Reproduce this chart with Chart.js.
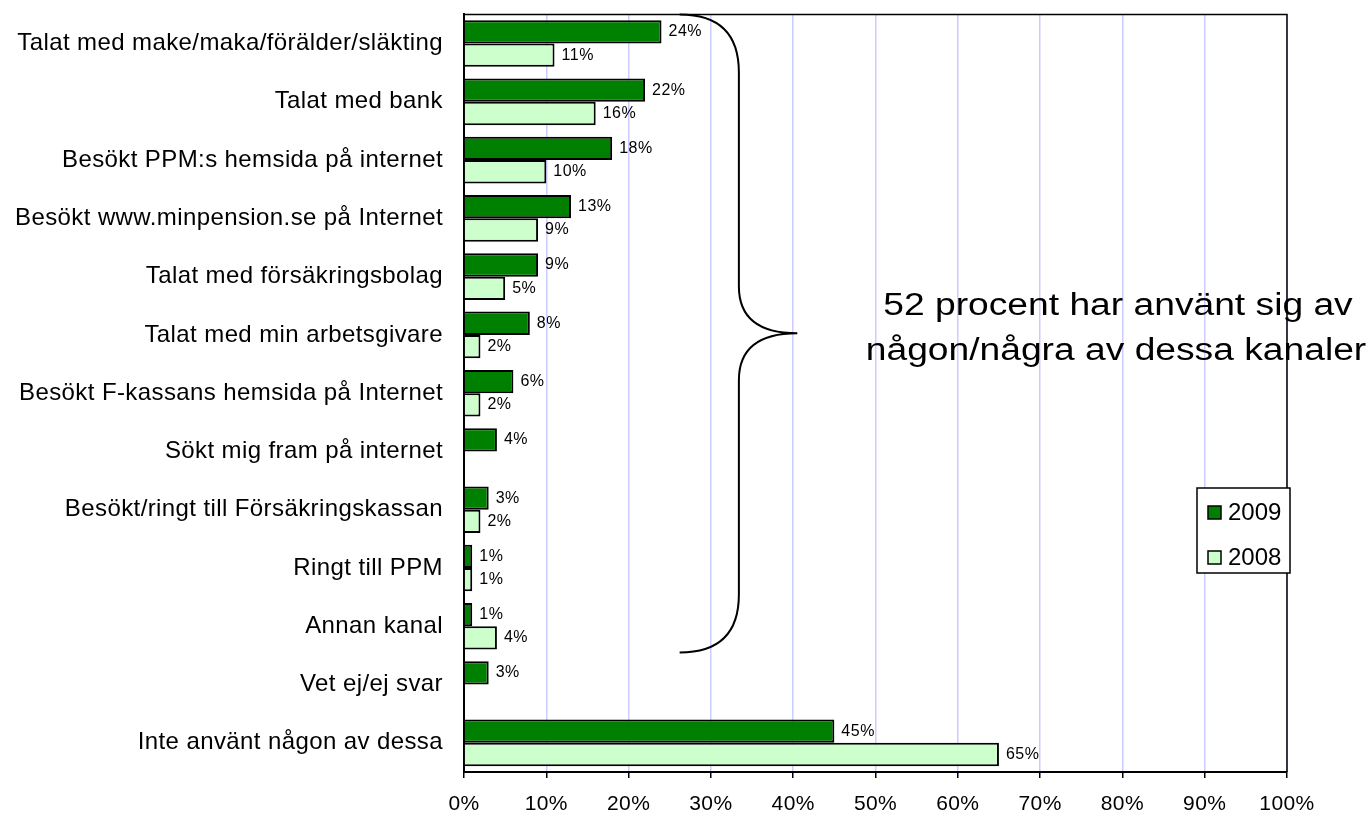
<!DOCTYPE html>
<html>
<head>
<meta charset="utf-8">
<script src="https://cdn.jsdelivr.net/npm/chart.js@4/dist/chart.umd.min.js"></script>
<style>
  html, body { margin: 0; padding: 0; background: #fff; }
  #wrap { width: 1372px; height: 813px; }
</style>
</head>
<body>
<div id="wrap"><canvas id="kanalChart" width="1372" height="813"></canvas></div>
<script>
// Kanaler för pensionsinformation, andel i procent
const categories = [
    'Talat med make/maka/förälder/släkting',
    'Talat med bank',
    'Besökt PPM:s hemsida på internet',
    'Besökt www.minpension.se på Internet',
    'Talat med försäkringsbolag',
    'Talat med min arbetsgivare',
    'Besökt F-kassans hemsida på Internet',
    'Sökt mig fram på internet',
    'Besökt/ringt till Försäkringskassan',
    'Ringt till PPM',
    'Annan kanal',
    'Vet ej/ej svar',
    'Inte använt någon av dessa'
];
const values2009 = [24, 22, 18, 13, 9, 8, 6, 4, 3, 1, 1, 3, 45];
const values2008 = [11, 16, 10, 9, 5, 2, 2, null, 2, 1, 4, null, 65];
const xTicks = [0, 10, 20, 30, 40, 50, 60, 70, 80, 90, 100];
const noteLines = ['52 procent har använt sig av', 'någon/några av dessa kanaler'];

const FONT = '"Liberation Sans", Arial, Helvetica, sans-serif';

// lite bredare teckenavstånd, som i originalet
const spacing = {
    id: 'spacing',
    beforeDraw(chart) { chart.ctx.letterSpacing = '0.4px'; },
    afterDraw(chart) { chart.ctx.letterSpacing = '0px'; }
};

// Etiketter till höger om staplarna
const valueLabels = {
    id: 'valueLabels',
    afterDatasetsDraw(chart) {
        const ctx = chart.ctx;
        ctx.save();
        ctx.font = '16px ' + FONT;
        ctx.letterSpacing = '0.5px';
        ctx.fillStyle = '#000';
        ctx.textBaseline = 'middle';
        ctx.textAlign = 'left';
        chart.data.datasets.forEach((ds, i) => {
            chart.getDatasetMeta(i).data.forEach((bar, j) => {
                if (ds.data[j] == null) return;
                ctx.fillText(ds.data[j] + '%', bar.x + 7, bar.y);
            });
        });
        ctx.restore();
    }
};

// Ram, klammer, kommentar och förklaring
const extras = {
    id: 'extras',
    afterDraw(chart) {
        const ctx = chart.ctx;
        const a = chart.chartArea;
        const x = chart.scales.x;
        const y = chart.scales.y;
        ctx.save();

        // ram runt diagramytan
        ctx.strokeStyle = '#000';
        ctx.lineWidth = 1.5;
        ctx.beginPath();
        ctx.moveTo(a.left, a.top);
        ctx.lineTo(a.right, a.top);
        ctx.lineTo(a.right, a.bottom);
        ctx.stroke();

        // klammer
        const band = y.getPixelForValue(1) - y.getPixelForValue(0);
        const x0 = x.getPixelForValue(26.2);
        const xm = x.getPixelForValue(33.4);
        const xt = x.getPixelForValue(40.5);
        const top = a.top;
        const bot = y.getPixelForValue(10) + band * 0.45;
        const mid = y.getPixelForValue(5) - band * 0.03;
        const r = 58;
        ctx.lineWidth = 2;
        ctx.beginPath();
        ctx.moveTo(x0, top);
        ctx.quadraticCurveTo(xm, top, xm, top + r);
        ctx.lineTo(xm, mid - 47);
        ctx.quadraticCurveTo(xm, mid, xt, mid);
        ctx.quadraticCurveTo(xm, mid, xm, mid + 47);
        ctx.lineTo(xm, bot - r);
        ctx.quadraticCurveTo(xm, bot, x0, bot);
        ctx.stroke();

        // kommentar (något utdragen i bredd, som i originalet)
        ctx.font = '31px ' + FONT;
        ctx.letterSpacing = '0px';
        ctx.fillStyle = '#000';
        ctx.textAlign = 'center';
        ctx.textBaseline = 'middle';
        [[noteLines[0], 1118, 306], [noteLines[1], 1116, 351]].forEach(([t, tx, ty]) => {
            ctx.save();
            ctx.translate(tx, ty);
            ctx.scale(1.2, 1);
            ctx.fillText(t, 0, 0);
            ctx.restore();
        });

        // förklaring
        const lx = 1197, ly = 488, lw = 93, lh = 85;
        ctx.fillStyle = '#fff';
        ctx.fillRect(lx, ly, lw, lh);
        ctx.lineWidth = 1.5;
        ctx.strokeStyle = '#000';
        ctx.strokeRect(lx, ly, lw, lh);
        ctx.font = '24px ' + FONT;
        ctx.textAlign = 'left';
        chart.data.datasets.forEach((ds, i) => {
            const cy = ly + 24 + i * 45;
            ctx.fillStyle = ds.backgroundColor;
            ctx.fillRect(lx + 11, cy - 6, 13, 13);
            ctx.lineWidth = 1.5;
            ctx.strokeRect(lx + 11, cy - 6, 13, 13);
            ctx.fillStyle = '#000';
            ctx.fillText(ds.label, lx + 31, cy + 1);
        });
        ctx.restore();
    }
};

new Chart(document.getElementById('kanalChart'), {
    type: 'bar',
    data: {
        labels: categories,
        datasets: [
            {
                label: '2009',
                data: values2009,
                backgroundColor: '#008000',
                borderColor: '#000',
                borderWidth: 2,
                categoryPercentage: 0.8,
                barPercentage: 1.0
            },
            {
                label: '2008',
                data: values2008,
                backgroundColor: '#ccffcc',
                borderColor: '#000',
                borderWidth: 2,
                categoryPercentage: 0.8,
                barPercentage: 1.0
            }
        ]
    },
    options: {
        indexAxis: 'y',
        responsive: false,
        animation: false,
        layout: { padding: { top: 0, right: 85, bottom: 0, left: 0 } },
        plugins: {
            legend: { display: false },
            tooltip: { enabled: false }
        },
        scales: {
            x: {
                min: 0,
                max: 100,
                afterBuildTicks(axis) {
                    axis.ticks = xTicks.map(v => ({ value: v }));
                },
                afterFit(axis) { axis.height = 41; },
                grid: {
                    color: '#ccccff',
                    lineWidth: 1.5,
                    tickColor: '#000',
                    tickLength: 6
                },
                border: { color: '#000', width: 2 },
                ticks: {
                    callback: v => v + '%',
                    color: '#000',
                    font: { family: FONT, size: 21 },
                    padding: 14,
                    maxRotation: 0
                }
            },
            y: {
                afterFit(axis) { axis.width = 464; },
                grid: { display: false, tickLength: 21 },
                border: { color: '#000', width: 2 },
                ticks: {
                    color: '#000',
                    font: { family: FONT, size: 24 },
                    padding: 0,
                    autoSkip: false
                }
            }
        }
    },
    plugins: [spacing, valueLabels, extras]
});
</script>
</body>
</html>
